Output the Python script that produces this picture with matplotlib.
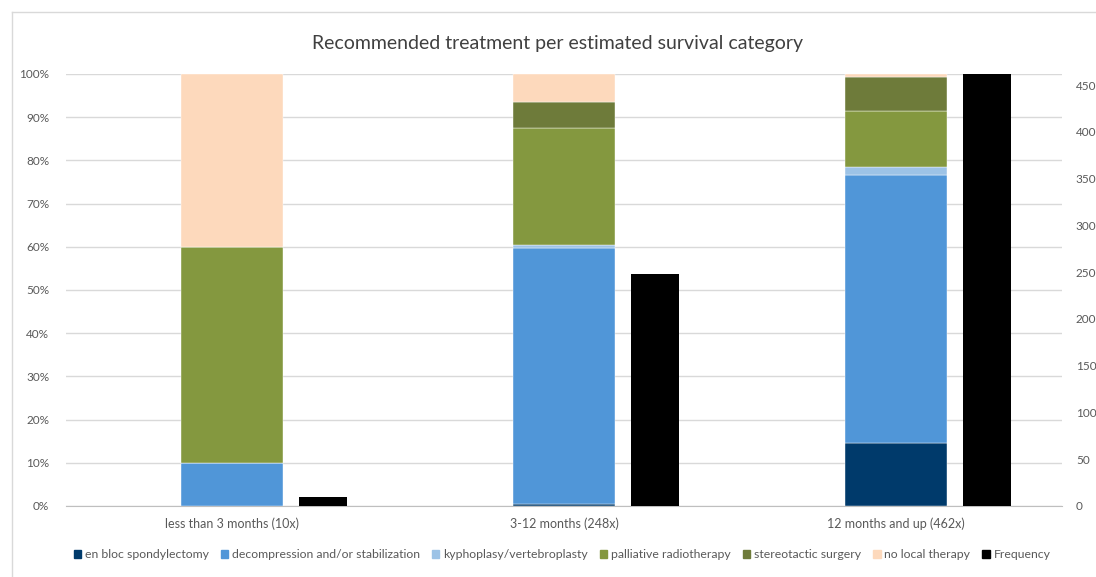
import numpy as np
import matplotlib.pyplot as plt
from matplotlib.lines import Line2D
from matplotlib.patches import Patch

plt.rcParams['font.family'] = ['Lato', 'DejaVu Sans']

# Aantallen per behandeling per overlevingscategorie
categories = ['less than 3 months (10x)', '3-12 months (248x)', '12 months and up (462x)']
frequency = [10, 248, 462]
en_bloc = [0, 1, 67]
decompression = [1, 147, 287]
kyphoplasty = [0, 2, 9]
palliative_rt = [5, 67, 59]
stereotactic = [0, 15, 37]
no_local = [4, 16, 3]

series_names = ['en bloc spondylectomy', 'decompression and/or stabilization',
                'kyphoplasy/vertebroplasty', 'palliative radiotherapy',
                'stereotactic surgery', 'no local therapy']
series = [en_bloc, decompression, kyphoplasty, palliative_rt, stereotactic, no_local]
colors = ['#003a6b', '#5096d8', '#9dc3e6', '#84983f', '#6e7b3a', '#fdd9bc']

freq = np.array(frequency, dtype=float)
x = np.arange(len(categories))

fig = plt.figure(figsize=(10.96, 5.77), dpi=100)
ax = fig.add_axes([66 / 1096, 1 - 506 / 577, (1062 - 66) / 1096, (506 - 74) / 577])

bottom = np.zeros(len(categories))
for vals, c in zip(series, colors):
    pct = np.array(vals) / freq * 100
    ax.bar(x, pct, 0.31, bottom=bottom, color=c, edgecolor='white', linewidth=0.3, zorder=3)
    bottom += pct

ax.set_xlim(-0.5, 2.5)
ax.set_ylim(0, 100)
ax.set_yticks(np.arange(0, 101, 10))
ax.set_yticklabels([f'{v}%' for v in range(0, 101, 10)])
ax.yaxis.grid(True, color='#d9d9d9', linewidth=1, zorder=0)
ax.set_xticks(x)
ax.set_xticklabels(categories, fontsize=9)
for s in ['top', 'right', 'left']:
    ax.spines[s].set_visible(False)
ax.spines['bottom'].set_color('#bfbfbf')
ax.tick_params(axis='both', length=0, colors='#595959')
ax.tick_params(axis='y', pad=12, labelsize=8.5)
ax.tick_params(axis='x', pad=8)

ax2 = ax.twinx()
ax2.bar(x + 0.274, frequency, 0.145, color='black', zorder=3)
ax2.set_ylim(0, 462)
ax2.set_yticks(np.arange(0, 451, 50))
for s in ['top', 'right', 'left', 'bottom']:
    ax2.spines[s].set_visible(False)
ax2.tick_params(axis='y', length=0, colors='#595959', labelsize=8.5, pad=10)

fig.text(558 / 1096, 1 - 43 / 577, 'Recommended treatment per estimated survival category',
         ha='center', va='center', fontsize=14, color='#404040')

handles = [Patch(color=c) for c in colors] + [Patch(color='black')]
labels = series_names + ['Frequency']
fig.legend(handles, labels, loc='center', bbox_to_anchor=(562 / 1096, 1 - 555 / 577),
           ncol=7, frameon=False, fontsize=8.8, handlelength=0.6, handleheight=0.6,
           handletextpad=0.3, columnspacing=1.0, labelcolor='#595959')

# kader rond de grafiek
fig.add_artist(Line2D([12 / 1096, 12 / 1096], [0, 1 - 12 / 577], color='#d9d9d9', lw=1))
fig.add_artist(Line2D([12 / 1096, 1], [1 - 12 / 577, 1 - 12 / 577], color='#d9d9d9', lw=1))

fig.savefig('out.png', dpi=100)
